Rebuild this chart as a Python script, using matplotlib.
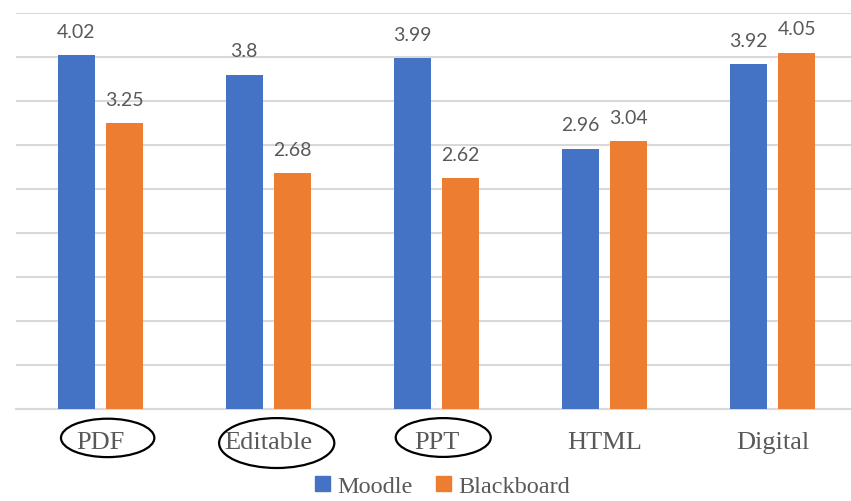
import numpy as np
import matplotlib.pyplot as plt
from matplotlib.patches import Ellipse, Patch
from matplotlib.transforms import blended_transform_factory

# ── data ──────────────────────────────────────────────────────────────────────
categories = ["PDF", "Editable", "PPT", "HTML", "Digital"]
moodle = [4.02, 3.8, 3.99, 2.96, 3.92]
blackboard = [3.25, 2.68, 2.62, 3.04, 4.05]
circled = ["PDF", "Editable", "PPT"]

BLUE = "#4472C4"
ORANGE = "#ED7D31"
GRID = "#D9D9D9"
TXT = "#595959"
SERIF = ["Liberation Serif", "DejaVu Serif"]
SANS = ["Lato", "DejaVu Sans"]

fig = plt.figure(figsize=(8.51, 5.02), dpi=100)
ax = fig.add_axes([16 / 851, 92 / 502, 1 - 16 / 851 + 6 / 851, 396 / 502])

x = np.arange(len(categories))
w = 0.22
off = 0.143
b1 = ax.bar(x - off, moodle, w, color=BLUE, zorder=3)
b2 = ax.bar(x + off, blackboard, w, color=ORANGE, zorder=3)

for bars, vals in [(b1, moodle), (b2, blackboard)]:
    for r, v in zip(bars, vals):
        ax.annotate(f"{v:g}", (r.get_x() + r.get_width() / 2, v),
                    xytext=(0, 11), textcoords="offset points",
                    ha="center", va="bottom", fontsize=14, color=TXT,
                    family=SANS)

ax.set_ylim(0, 4.5)
ax.set_yticks(np.arange(0, 4.51, 0.5))
ax.set_xlim(-0.5, 4.5)
ax.yaxis.grid(True, color=GRID, linewidth=1.5, zorder=0)
ax.tick_params(axis="y", left=False, labelleft=False)
ax.tick_params(axis="x", length=0, pad=16)
ax.set_xticks(x)
ax.set_xticklabels(categories, fontsize=19, color=TXT, family=SERIF)
for s in ["top", "right", "left"]:
    ax.spines[s].set_visible(False)
ax.spines["bottom"].set_color(GRID)
ax.spines["bottom"].set_linewidth(1.5)

# ellipses round the first three labels
tr = blended_transform_factory(ax.transData, ax.transAxes)
ell = {"PDF": (0.045, -0.073, 0.555, 0.097),
       "Editable": (0.05, -0.086, 0.685, 0.126),
       "PPT": (0.04, -0.072, 0.565, 0.098)}
for c in circled:
    i = categories.index(c)
    dx, cy, ew, eh = ell[c]
    ax.add_patch(Ellipse((i + dx, cy), ew, eh, transform=tr, fill=False,
                         edgecolor="black", linewidth=1.6, clip_on=False))

handles = [Patch(color=BLUE, label="Moodle"), Patch(color=ORANGE, label="Blackboard")]
fig.legend(handles=handles, loc="lower center", bbox_to_anchor=(0.52, -0.036),
           ncol=2, frameon=False, prop={"family": SERIF, "size": 17.5},
           labelcolor=TXT, handlelength=0.6, handleheight=0.6,
           handletextpad=0.3, columnspacing=1.0)

plt.savefig("out.png", dpi=100)
